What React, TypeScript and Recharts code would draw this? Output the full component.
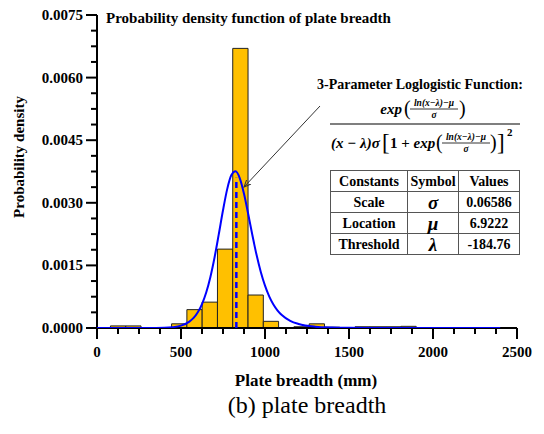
import React from "react";
import {
  ComposedChart,
  Line,
  XAxis,
  YAxis,
  ReferenceArea,
  ReferenceLine,
} from "recharts";

// histogram of plate breadth: left edge of each bin and its density
const binStarts = [80, 171, 444, 535, 626, 717, 808, 899, 990, 1172, 1263, 1354, 1536, 1627, 1718, 1809];
const binDensity = [
  0.00005, 0.00005, 0.0001, 0.00044, 0.00062, 0.00189, 0.0067, 0.00079, 0.00016,
  0.00003, 0.0001, 0.00002, 0.00003, 0.00003, 0.00003, 0.00004,
];
const BIN_WIDTH = 91;

// fitted 3-parameter loglogistic curve
const curveX = [
  0, 100, 200, 300, 400, 450, 500, 550, 575, 600, 625, 650, 675, 700, 725, 750, 775, 800,
  825, 850, 875, 900, 925, 950, 975, 1000, 1025, 1050, 1075, 1100, 1150, 1200, 1300, 1400,
  1500, 1600, 1800, 2000, 2200, 2400,
];
const curveDensity = [
  0, 0, 0, 0.0000004, 0.000006, 0.000019, 0.000057, 0.000152, 0.000241, 0.000377,
  0.000573, 0.00085, 0.001224, 0.001696, 0.002248, 0.002821, 0.003328, 0.003664,
  0.003755, 0.003587, 0.003216, 0.002731, 0.002221, 0.001747, 0.001342, 0.001014,
  0.000759, 0.000564, 0.000419, 0.00031, 0.000171, 0.000096, 0.000031, 0.000011,
  0.000004, 0.0000016, 0, 0, 0, 0,
];
const medianBreadth = 829.4;
const medianMarkTop = 0.0036;

const xTicks = [
  0, 125, 250, 375, 500, 625, 750, 875, 1000, 1125, 1250, 1375, 1500, 1625, 1750, 1875,
  2000, 2125, 2250, 2375, 2500,
];
const yTicks = [
  0, 0.000375, 0.00075, 0.001125, 0.0015, 0.001875, 0.00225, 0.002625, 0.003, 0.003375,
  0.00375, 0.004125, 0.0045, 0.004875, 0.00525, 0.005625, 0.006, 0.006375, 0.00675,
  0.007125, 0.0075,
];

const constantNames = ["Scale", "Location", "Threshold"];
const constantSymbols = ["σ", "μ", "λ"];
const constantValues = ["0.06586", "6.9222", "-184.76"];

const curveData = curveX.map((x, i) => ({ x, density: curveDensity[i] }));

const SERIF = "'Liberation Serif', 'Times New Roman', serif";
const BLUE = "#0000ff";

const isMajor = (v: number, step: number) =>
  Math.abs(v / step - Math.round(v / step)) < 1e-6;

function XTick({ x, y, payload }: any) {
  const major = isMajor(payload.value, 500);
  return (
    <g>
      <line x1={x} x2={x} y1={y} y2={y + (major ? 11 : 6)} stroke="#000" strokeWidth={2} />
      {major && (
        <text
          x={x}
          y={y + 29}
          textAnchor="middle"
          fontFamily={SERIF}
          fontWeight="bold"
          fontSize={15}
          fill="#000"
        >
          {payload.value}
        </text>
      )}
    </g>
  );
}

function YTick({ x, y, payload }: any) {
  const major = isMajor(payload.value, 0.0015);
  return (
    <g>
      <line x1={x - (major ? 11 : 6)} x2={x} y1={y} y2={y} stroke="#000" strokeWidth={2} />
      {major && (
        <text
          x={x - 14}
          y={y + 5}
          textAnchor="end"
          fontFamily={SERIF}
          fontWeight="bold"
          fontSize={15}
          fill="#000"
        >
          {payload.value.toFixed(4)}
        </text>
      )}
    </g>
  );
}

const mathFont = {
  fontFamily: SERIF,
  fontWeight: "bold" as const,
  fontStyle: "italic" as const,
};

function SmallFrac({ cx, top }: { cx: number; top: number }) {
  return (
    <g>
      <text x={cx} y={top + 7} textAnchor="middle" fontSize={9.5} {...mathFont}>
        ln(x−λ)−μ
      </text>
      <line x1={cx - 24} x2={cx + 24} y1={top + 10} y2={top + 10} stroke="#000" strokeWidth={0.8} />
      <text x={cx} y={top + 19} textAnchor="middle" fontSize={9.5} {...mathFont}>
        σ
      </text>
    </g>
  );
}

function Overlay() {
  return (
    <svg
      width={544}
      height={434}
      style={{ position: "absolute", left: 0, top: 0, pointerEvents: "none" }}
    >
      <defs>
        <marker id="arr" markerWidth="8" markerHeight="8" refX="7" refY="4" orient="auto">
          <path d="M0,1 L7,4 L0,7" fill="none" stroke="#333" strokeWidth={1} />
        </marker>
      </defs>
      <text x={106} y={23} fontFamily={SERIF} fontWeight="bold" fontSize={15}>
        Probability density function of plate breadth
      </text>
      <text
        x={0}
        y={0}
        transform="translate(24,157) rotate(-90)"
        textAnchor="middle"
        fontFamily={SERIF}
        fontWeight="bold"
        fontSize={15}
      >
        Probability density
      </text>
      <text x={306} y={386} textAnchor="middle" fontFamily={SERIF} fontWeight="bold" fontSize={17}>
        Plate breadth (mm)
      </text>
      <text x={307} y={413} textAnchor="middle" fontFamily={SERIF} fontSize={24}>
        (b) plate breadth
      </text>

      {/* leader from formula to curve */}
      <line x1={320} y1={106} x2={244} y2={187} stroke="#333" strokeWidth={1} markerEnd="url(#arr)" />

      {/* formula */}
      <text x={420} y={89} textAnchor="middle" fontFamily={SERIF} fontWeight="bold" fontSize={14}>
        3-Parameter Loglogistic  Function:
      </text>
      <text x={402} y={114} textAnchor="end" fontSize={15} {...mathFont}>
        exp
      </text>
      <text x={404} y={115} fontFamily={SERIF} fontSize={20}>(</text>
      <SmallFrac cx={434} top={99} />
      <text x={459} y={115} fontFamily={SERIF} fontSize={20}>)</text>
      <line x1={330} x2={520} y1={124} y2={124} stroke="#000" strokeWidth={1.2} />
      <text x={331} y={148} fontSize={15} {...mathFont}>
        (x − λ)σ
      </text>
      <text x={382} y={150} fontFamily={SERIF} fontSize={23}>[</text>
      <text x={390} y={148} fontSize={15} fontFamily={SERIF} fontWeight="bold">
        1 + <tspan fontStyle="italic">exp</tspan>
      </text>
      <text x={436} y={149} fontFamily={SERIF} fontSize={20}>(</text>
      <SmallFrac cx={466} top={133} />
      <text x={490} y={149} fontFamily={SERIF} fontSize={20}>)</text>
      <text x={497} y={150} fontFamily={SERIF} fontSize={23}>]</text>
      <text x={507} y={136} fontFamily={SERIF} fontWeight="bold" fontSize={11}>2</text>
    </svg>
  );
}

const cell: React.CSSProperties = {
  border: "1px solid #555",
  padding: 0,
  textAlign: "center",
  height: 20,
  fontFamily: SERIF,
  fontWeight: "bold",
  fontSize: 14,
  lineHeight: "19px",
};

function ConstantsTable() {
  return (
    <table
      style={{
        position: "absolute",
        left: 330,
        top: 170,
        width: 189,
        borderCollapse: "collapse",
        background: "#fff",
        tableLayout: "fixed",
      }}
    >
      <colgroup>
        <col style={{ width: 77 }} />
        <col style={{ width: 51 }} />
        <col style={{ width: 61 }} />
      </colgroup>
      <tbody>
        <tr>
          <td style={cell}>Constants</td>
          <td style={cell}>Symbol</td>
          <td style={cell}>Values</td>
        </tr>
        {constantNames.map((name, i) => (
          <tr key={name}>
            <td style={cell}>{name}</td>
            <td style={{ ...cell, fontStyle: "italic", fontSize: 19 }}>{constantSymbols[i]}</td>
            <td style={cell}>{constantValues[i]}</td>
          </tr>
        ))}
      </tbody>
    </table>
  );
}

export default function App() {
  return (
    <div style={{ position: "absolute", left: 0, top: 0, width: 544, height: 434, background: "#fff" }}>
      <ComposedChart
        width={544}
        height={434}
        data={curveData}
        margin={{ top: 15, right: 27, bottom: 46, left: 0 }}
      >
        <XAxis
          dataKey="x"
          type="number"
          domain={[0, 2500]}
          ticks={xTicks}
          interval={0}
          tick={<XTick />}
          tickLine={false}
          tickSize={0}
          tickMargin={0}
          axisLine={{ stroke: "#000", strokeWidth: 2 }}
          height={60}
          allowDataOverflow
        />
        <YAxis
          type="number"
          domain={[0, 0.0075]}
          ticks={yTicks}
          interval={0}
          tick={<YTick />}
          tickLine={false}
          tickSize={0}
          tickMargin={0}
          axisLine={{ stroke: "#000", strokeWidth: 2 }}
          width={97}
          allowDataOverflow
        />
        {binStarts.map((s, i) => (
          <ReferenceArea
            key={s}
            x1={s}
            x2={s + BIN_WIDTH}
            y1={0}
            y2={binDensity[i]}
            fill="#ffc000"
            fillOpacity={1}
            stroke="#222"
            strokeWidth={1}
            ifOverflow="visible"
          />
        ))}
        <Line
          dataKey="density"
          type="monotone"
          stroke={BLUE}
          strokeWidth={2}
          dot={false}
          activeDot={false}
          isAnimationActive={false}
          zIndex={600}
        />
        <ReferenceLine
          segment={[
            { x: medianBreadth, y: 0 },
            { x: medianBreadth, y: medianMarkTop },
          ]}
          stroke={BLUE}
          strokeWidth={2.5}
          strokeDasharray="6 4"
          zIndex={650}
        />
      </ComposedChart>
      <Overlay />
      <ConstantsTable />
    </div>
  );
}
